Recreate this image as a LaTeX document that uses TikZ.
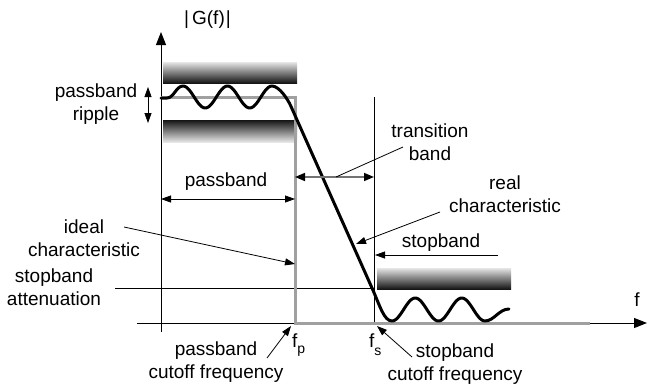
\documentclass[tikz,border=0pt]{standalone}
\usepackage{fontspec}
\setmainfont{Liberation Sans}
\usetikzlibrary{arrows.meta}
\definecolor{idealgray}{HTML}{A0A0A0}
\definecolor{barlight}{HTML}{E6E6E6}
\definecolor{bardark}{HTML}{151515}
\begin{document}
\begin{tikzpicture}[x=1pt,y=-1pt,
  font=\fontsize{19}{23}\selectfont,
  axisline/.style={line width=1pt,-{Triangle[length=13pt,width=10pt]}},
  ann/.style={line width=0.8pt},
  annarrow/.style={ann,-{Triangle[length=10pt,width=7pt]}},
  dblarrow/.style={ann,{Triangle[length=10pt,width=7pt]}-{Triangle[length=10pt,width=7pt]}},
  idealline/.style={idealgray,line width=3pt},
  realline/.style={black,line width=3pt,line join=round,line cap=round},
  lbl/.style={align=center,inner sep=0pt}]
\useasboundingbox (0,0) rectangle (648,386);

% tolerance bars
\shade[top color=barlight,bottom color=bardark] (163,62) rectangle (297,83);
\shade[top color=bardark,bottom color=barlight] (163,120) rectangle (297,142);
\shade[top color=barlight,bottom color=bardark] (377,268) rectangle (511,289);

% coordinates
\coordinate (yb) at (161,332);
\coordinate (yt) at (161,32);
\coordinate (xl) at (137,323);
\coordinate (xr) at (647,323);
\coordinate (fpc) at (295,323);
\coordinate (fsb) at (374,323);
\coordinate (fst) at (374,97);

% thin lines
\draw[ann] (115,288) coordinate (sal) -- (374,288) coordinate (sar);
\draw[ann] (fst) -- (fsb);

% axes
\draw[axisline] (xl) -- (xr);
\draw[axisline] (yb) -- (yt);

% ideal characteristic
\draw[idealline,line join=miter] (161,97.5) -- (295,97.5) -- (fpc) -- (590,323);

% real characteristic
\draw[realline] (161,98) -- (167,98) .. controls (174,98) and (176,86) .. (183,86)
  -- plot[domain=183:272,samples=80] (\x,{97-11*cos(8.0899*(\x-183))})
  .. controls (279,86) and (287.7,99) .. (290.8,106)
  -- (372,288)
  .. controls (380,306) and (384,321) .. (392,321)
  -- plot[domain=392:485,samples=80] (\x,{309.5+11.5*cos(7.7419*(\x-392))})
  .. controls (494,321) and (499,309) .. (509,309);

% labels
\node[lbl] (Gf) at (207.5,20) {|\hspace{3pt}G(f)\hspace{1pt}|};
\node[lbl] (ripple) at (96,104) {passband\\ripple};
\node[lbl] (pb) at (226,182) {passband};
\node[lbl] (ideal) at (84,238) {ideal\\characteristic};
\node[lbl] (satt) at (54,287) {stopband\\attenuation};
\node[lbl] (trans) at (430,142) {transition\\band};
\node[lbl] (realc) at (505,194) {real\\characteristic};
\node[lbl] (sb) at (441,243) {stopband};
\node[lbl] (flab) at (637,300) {f};
\node[lbl,anchor=base west] (fp) at (292,347) {f\raisebox{-6pt}{\fontsize{14}{14}\selectfont p}};
\node[lbl,anchor=base west] (fs) at (369,347) {f\raisebox{-8pt}{\fontsize{14}{14}\selectfont s}};
\node[lbl] (pbc) at (216,362) {passband\\cutoff frequency};
\node[lbl] (sbc) at (455,364) {stopband\\cutoff frequency};

% annotation arrows
\coordinate (rt) at (148,87);
\coordinate (rb) at (148,123);
\draw[dblarrow] (rt) -- (rb);
\coordinate (pbl) at (161,199);
\coordinate (pbr) at (295,199);
\draw[dblarrow] (pbl) -- (pbr);
\coordinate (tbl) at (295,177);
\coordinate (tbr) at (374,177);
\draw[line width=1.6pt,draw=black!55,
  {Triangle[length=10pt,width=8pt,color=black]}-{Triangle[length=10pt,width=8pt,color=black]}] (tbl) -- (tbr);
\coordinate (tbm) at (336,177);
\coordinate (tbs) at (403,147);
\draw[ann] (tbs) -- (tbm);
\coordinate (ids) at (124,227);
\coordinate (idt) at (295,264);
\draw[annarrow] (ids) -- (idt);
\coordinate (rcs) at (440,212);
\coordinate (rct) at (356,244);
\draw[annarrow] (rcs) -- (rct);
\coordinate (sbs) at (498,255);
\coordinate (sbt) at (375,255);
\draw[annarrow] (sbs) -- (sbt);
\coordinate (pcs) at (267,358);
\coordinate (pct) at (291,326);
\draw[annarrow] (pcs) -- (pct);
\coordinate (scs) at (412,357);
\coordinate (sct) at (377,326);
\draw[annarrow] (scs) -- (sct);
\end{tikzpicture}
\end{document}
